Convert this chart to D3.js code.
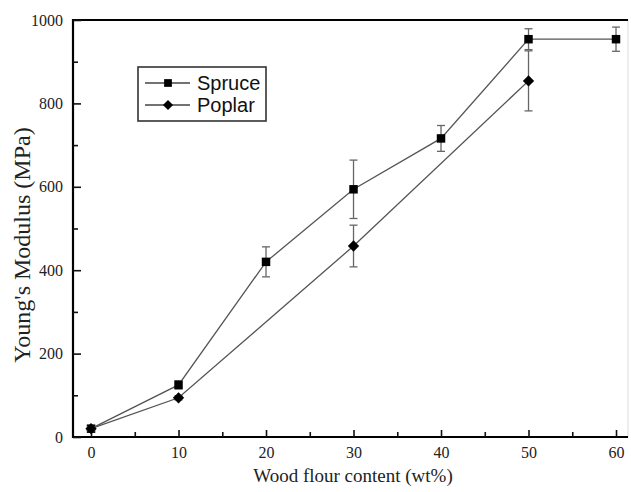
<!DOCTYPE html>
<html>
<head>
<meta charset="utf-8">
<script src="https://cdn.jsdelivr.net/npm/d3@7"></script>
<style>
  body { margin: 0; background: #fff; }
  svg { display: block; }
</style>
</head>
<body>
<script>
// data
var wtSpruce = [0, 10, 20, 30, 40, 50, 60];
var spruce = [20, 125, 420, 594, 716, 954, 954];
var spruceErr = [6, 10, 36, 70, 31, 25, 29];

var wtPoplar = [0, 10, 30, 50];
var poplar = [20, 94, 458, 854];
var poplarErr = [5, 5, 50, 72];

var xMajor = [0, 10, 20, 30, 40, 50, 60];
var xMinor = [5, 15, 25, 35, 45, 55];
var yMajor = [0, 200, 400, 600, 800, 1000];
var yMinor = [100, 300, 500, 700, 900];

var width = 631,
    height = 492;

var svg = d3.select("body").append("svg")
    .attr("width", width)
    .attr("height", height);

// plot box ("top" is taken on window, so other names)
var pLeft = 73, pRight = 628, pTop = 20, pBottom = 437;

var x = d3.scaleLinear().domain([-2.06, 61.37]).range([pLeft, pRight]);
var y = d3.scaleLinear().domain([0, 1000]).range([pBottom, pTop]);

// frame: faint right edge, dark top/left/bottom
svg.append("rect")
    .attr("x", pLeft).attr("y", pTop)
    .attr("width", pRight - pLeft).attr("height", pBottom - pTop)
    .attr("fill", "none")
    .attr("stroke", "#ddd")
    .attr("stroke-width", 1);
svg.append("path")
    .attr("d", d3.line()([[pRight, pTop], [pLeft, pTop], [pLeft, pBottom], [pRight, pBottom]]))
    .attr("fill", "none")
    .attr("stroke", "#000")
    .attr("stroke-width", 2.2);

// axes
svg.append("g")
    .attr("transform", "translate(0," + pBottom + ")")
    .call(d3.axisBottom(x).tickValues(xMajor).tickSize(-7).tickPadding(10));
svg.append("g")
    .attr("transform", "translate(0," + pBottom + ")")
    .call(d3.axisBottom(x).tickValues(xMinor).tickSize(-5).tickFormat(""));
svg.append("g")
    .attr("transform", "translate(" + pLeft + ",0)")
    .call(d3.axisLeft(y).tickValues(yMajor).tickSize(-8).tickPadding(10).tickFormat(d3.format("d")));
svg.append("g")
    .attr("transform", "translate(" + pLeft + ",0)")
    .call(d3.axisLeft(y).tickValues(yMinor).tickSize(-5).tickFormat(""));

svg.selectAll(".domain").remove();
svg.selectAll(".tick line").attr("stroke", "#111").attr("stroke-width", 1.6);
svg.selectAll(".tick text")
    .attr("font-family", "Liberation Serif, serif")
    .attr("font-size", 16)
    .attr("fill", "#222");

// axis titles
svg.append("text")
    .attr("x", 353).attr("y", 482)
    .attr("text-anchor", "middle")
    .attr("font-family", "Liberation Serif, serif")
    .attr("font-size", 19)
    .attr("fill", "#222")
    .text("Wood flour content (wt%)");

svg.append("text")
    .attr("transform", "translate(30,245) rotate(-90)")
    .attr("text-anchor", "middle")
    .attr("font-family", "Liberation Serif, serif")
    .attr("font-size", 24)
    .attr("fill", "#222")
    .text("Young's Modulus (MPa)");

var line = d3.line()
    .x(function(d) { return x(d[0]); })
    .y(function(d) { return y(d[1]); });

function drawSeries(xs, ys, errs, rot, size) {
  var pts = xs.map(function(v, i) { return [v, ys[i], errs[i]]; });

  svg.append("path")
      .datum(pts)
      .attr("d", line)
      .attr("fill", "none")
      .attr("stroke", "#555")
      .attr("stroke-width", 1.3);

  var eb = svg.append("g").selectAll("g")
      .data(pts)
    .enter().append("g")
      .attr("stroke", "#666")
      .attr("stroke-width", 1.3);
  eb.append("line")
      .attr("x1", function(d) { return x(d[0]); })
      .attr("x2", function(d) { return x(d[0]); })
      .attr("y1", function(d) { return y(d[1] + d[2]); })
      .attr("y2", function(d) { return y(d[1] - d[2]); });
  eb.append("line")
      .attr("x1", function(d) { return x(d[0]) - 4; })
      .attr("x2", function(d) { return x(d[0]) + 4; })
      .attr("y1", function(d) { return y(d[1] + d[2]); })
      .attr("y2", function(d) { return y(d[1] + d[2]); });
  eb.append("line")
      .attr("x1", function(d) { return x(d[0]) - 4; })
      .attr("x2", function(d) { return x(d[0]) + 4; })
      .attr("y1", function(d) { return y(d[1] - d[2]); })
      .attr("y2", function(d) { return y(d[1] - d[2]); });

  svg.append("g").selectAll("path")
      .data(pts)
    .enter().append("path")
      .attr("d", d3.symbol().type(d3.symbolSquare).size(size))
      .attr("transform", function(d) {
        return "translate(" + x(d[0]) + "," + y(d[1]) + ")" + (rot ? " rotate(45)" : "");
      })
      .attr("fill", "#000");
}

drawSeries(wtSpruce, spruce, spruceErr, false, 72);
drawSeries(wtPoplar, poplar, poplarErr, true, 64);

// legend
var legend = svg.append("g");
legend.append("rect")
    .attr("x", 138).attr("y", 67)
    .attr("width", 128).attr("height", 54)
    .attr("fill", "#fff")
    .attr("stroke", "#333")
    .attr("stroke-width", 1.6);

var entries = [
  {name: "Spruce", size: 60, rot: "", y: 83},
  {name: "Poplar", size: 52, rot: " rotate(45)", y: 105}
];
var le = legend.selectAll("g.entry")
    .data(entries)
  .enter().append("g")
    .attr("class", "entry");
le.append("line")
    .attr("x1", 145).attr("x2", 190)
    .attr("y1", function(d) { return d.y; })
    .attr("y2", function(d) { return d.y; })
    .attr("stroke", "#444").attr("stroke-width", 1.3);
le.append("path")
    .attr("d", function(d) { return d3.symbol().type(d3.symbolSquare).size(d.size)(); })
    .attr("transform", function(d) { return "translate(168," + d.y + ")" + d.rot; })
    .attr("fill", "#000");
le.append("text")
    .attr("x", 197)
    .attr("y", function(d) { return d.y; })
    .attr("dy", "0.36em")
    .attr("font-family", "Liberation Sans, Arial, sans-serif")
    .attr("font-size", 20)
    .attr("fill", "#111")
    .text(function(d) { return d.name; });
</script>
</body>
</html>
